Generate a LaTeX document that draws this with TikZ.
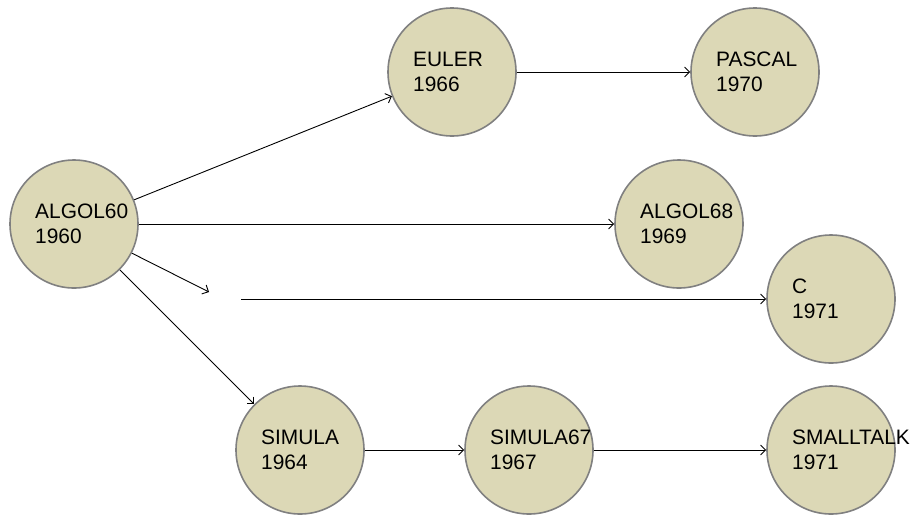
\documentclass[tikz,border=0pt]{standalone}
\usepackage{fontspec}
\setmainfont{Liberation Sans}
\usetikzlibrary{arrows.meta}

\definecolor{langfill}{RGB}{220,216,182}
\definecolor{langline}{RGB}{128,128,128}

\tikzset{
  lang/.style={circle, draw=langline, line width=1.6pt, fill=langfill,
    minimum size=128pt, inner sep=0pt},
  langtext/.style={anchor=west, align=left, inner sep=0pt,
    font=\fontsize{20.9}{24.5}\selectfont},
  edge/.style={-{Straight Barb[length=5pt,width=10pt]}, line width=0.9pt}
}

\begin{document}
\begin{tikzpicture}[x=1pt, y=-1pt]
  \useasboundingbox (0,0) rectangle (912,515);

  % languages
  \node[lang] (algol60) at (74,224) {};
  \node[lang] (euler) at (452,72) {};
  \node[lang] (pascal) at (755,72) {};
  \node[lang] (algol68) at (679,224) {};
  \node[lang] (c) at (831,299) {};
  \node[lang] (simula) at (300,450) {};
  \node[lang] (simula67) at (529,450) {};
  \node[lang] (smalltalk) at (831,450) {};

  \node[langtext] (t-algol60) at ([xshift=-39pt]algol60.center) {ALGOL60\\1960};
  \node[langtext] (t-euler) at ([xshift=-39pt]euler.center) {EULER\\1966};
  \node[langtext] (t-pascal) at ([xshift=-39pt]pascal.center) {PASCAL\\1970};
  \node[langtext] (t-algol68) at ([xshift=-39pt]algol68.center) {ALGOL68\\1969};
  \node[langtext] (t-c) at ([xshift=-39pt]c.center) {C\\1971};
  \node[langtext] (t-simula) at ([xshift=-39pt]simula.center) {SIMULA\\1964};
  \node[langtext] (t-simula67) at ([xshift=-39pt]simula67.center) {SIMULA67\\1967};
  \node[langtext] (t-smalltalk) at ([xshift=-39pt]smalltalk.center) {SMALLTALK\\1971};

  % the broken link to C
  \coordinate (gapend) at (209,292);
  \coordinate (gapstart) at (241,299);

  \draw[edge] (algol60) -- (euler);
  \draw[edge] (algol60) -- (algol68);
  \draw[edge] (algol60) -- (gapend);
  \draw[edge] (gapstart) -- (c);
  \draw[edge] (algol60) -- (simula);
  \draw[edge] (euler) -- (pascal);
  \draw[edge] (simula) -- (simula67);
  \draw[edge] (simula67) -- (smalltalk);
\end{tikzpicture}
\end{document}
